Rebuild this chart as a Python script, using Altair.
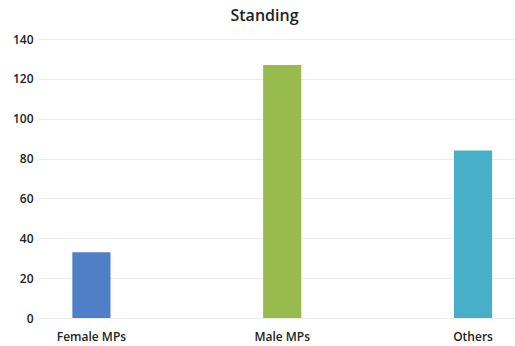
import altair as alt
import pandas as pd

categories = ["Female MPs", "Male MPs", "Others"]
values = [33, 127, 84]
colors = ["#4f7fc6", "#97bb4c", "#47afc7"]

df = pd.DataFrame({"cat": categories, "val": values})

chart = alt.Chart(df).mark_bar().encode(
    x=alt.X("cat:N", sort=categories,
            scale=alt.Scale(paddingInner=0.8, paddingOuter=0.15, align=0.6),
            axis=alt.Axis(title=None, labelAngle=0, domain=False, ticks=False,
                          labelPadding=13, labelFontSize=12, labelColor="#222",
                          labelFont="Open Sans", labelFontWeight=600)),
    y=alt.Y("val:Q", scale=alt.Scale(domain=[0, 140]),
            axis=alt.Axis(title=None, values=[0, 20, 40, 60, 80, 100, 120, 140],
                          domain=False, ticks=False, labelPadding=5,
                          labelFontSize=12, labelColor="#222", labelFont="Open Sans",
                          labelFontWeight=600, gridColor="#ececec")),
    color=alt.Color("cat:N", scale=alt.Scale(domain=categories, range=colors), legend=None),
).properties(
    width=477, height=279,
    title=alt.TitleParams("Standing", fontSize=16, font="Open Sans", fontWeight=600,
                          color="#222", offset=9, dx=-12),
    autosize=alt.AutoSizeParams(type="none"),
    padding={"left": 38, "top": 39, "right": 0, "bottom": 28},
).configure_view(stroke=None)

chart.save("out.html", embed_options={"renderer": "svg", "actions": False})
